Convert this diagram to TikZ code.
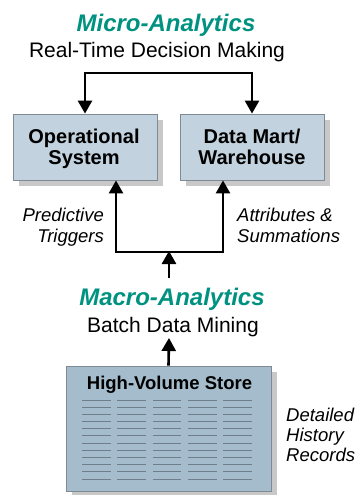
\documentclass[tikz,border=0pt]{standalone}
\usepackage{fontspec}
\setmainfont{Liberation Sans}
\usetikzlibrary{arrows.meta,shadows}
\definecolor{teal}{HTML}{009280}
\definecolor{boxfill}{HTML}{C2D2DE}
\definecolor{hvsfill}{HTML}{A4BCCC}
\definecolor{boxborder}{HTML}{7F8A94}
\definecolor{shadowgray}{HTML}{C8C8C8}
\definecolor{recline}{HTML}{6E7E8A}
\tikzset{
  title/.style={font=\fontsize{24}{28}\selectfont\bfseries\itshape, text=teal, anchor=base, inner sep=0pt},
  subtitle/.style={font=\fontsize{21}{24}\selectfont, anchor=base, inner sep=0pt},
  boxtext/.style={font=\fontsize{20}{21}\selectfont\bfseries, anchor=base, inner sep=0pt},
  label/.style={font=\fontsize{18.5}{20}\selectfont\itshape, inner sep=0pt},
  sbox/.style={draw=boxborder, line width=0.8pt, fill=boxfill, inner sep=0pt,
    drop shadow={shadow xshift=6pt, shadow yshift=-6pt, opacity=1, fill=shadowgray}},
  conn/.style={line width=2.6pt, black},
  tip/.style={-{Triangle[length=13pt,width=14pt]}},
  recline/.style={draw=recline, line width=0.9pt},
}
\begin{document}
\begin{tikzpicture}[x=1pt,y=-1pt]
\useasboundingbox (0,0) rectangle (360,495);
% titles
\node[title] (micro) at (166,32) {Micro-Analytics};
\node[subtitle] (rt) at (157,57) {Real-Time Decision Making};
% boxes
\node[sbox, minimum width=144pt, minimum height=66pt] (ops) at (85,147) {};
\node[sbox, minimum width=144pt, minimum height=66pt] (dm) at (252,147) {};
\node[boxtext] (opst1) at (84,143) {Operational};
\node[boxtext] (opst2) at (84,164) {System};
\node[boxtext] (dmt1) at (252,143) {Data Mart/};
\node[boxtext] (dmt2) at (252,164) {Warehouse};
% top connector
\coordinate (topmid) at (169,73);
\draw[conn, tip] (topmid) -| (ops.north);
\draw[conn, tip] (topmid) -| (dm.north);
% lower connectors
\coordinate (join) at (169,252);
\coordinate (macrotop) at (169,278);
\draw[conn, tip] (join) -| ([xshift=31pt]ops.south);
\draw[conn, tip] (join) -| ([xshift=-29pt]dm.south);
\draw[conn, tip] (macrotop) -- ([yshift=1pt]join);
% side labels
\node[label, anchor=base east] (pt1) at (104,221) {Predictive};
\node[label, anchor=base east] (pt2) at (104,242) {Triggers};
\node[label, anchor=base west] (as1) at (237,221) {Attributes \&};
\node[label, anchor=base west] (as2) at (237,242) {Summations};
% macro
\node[title] (macro) at (172,305) {Macro-Analytics};
\node[subtitle] (batch) at (173,332) {Batch Data Mining};
% high-volume store
\node[sbox, fill=hvsfill, minimum width=205pt, minimum height=125pt] (hvs) at (168.5,428.5) {};
\node[boxtext, font=\fontsize{18.5}{20}\selectfont\bfseries] (hvst) at (169.5,389) {High-Volume Store};
\foreach \i in {0,...,11}{
  \foreach \xa/\xb in {82/111,117/146,153/181,188/217,223/252}{
    \draw[recline] (\xa,400+\i*7.18) -- (\xb,400+\i*7.18);
  }
}
\coordinate (batchbottom) at (169,338);
\draw[conn, tip] (hvs.north) -- (batchbottom);
% records label
\node[label, anchor=base west] (dh1) at (286,421) {Detailed};
\node[label, anchor=base west] (dh2) at (286,441) {History};
\node[label, anchor=base west] (dh3) at (286,461) {Records};
\end{tikzpicture}
\end{document}
